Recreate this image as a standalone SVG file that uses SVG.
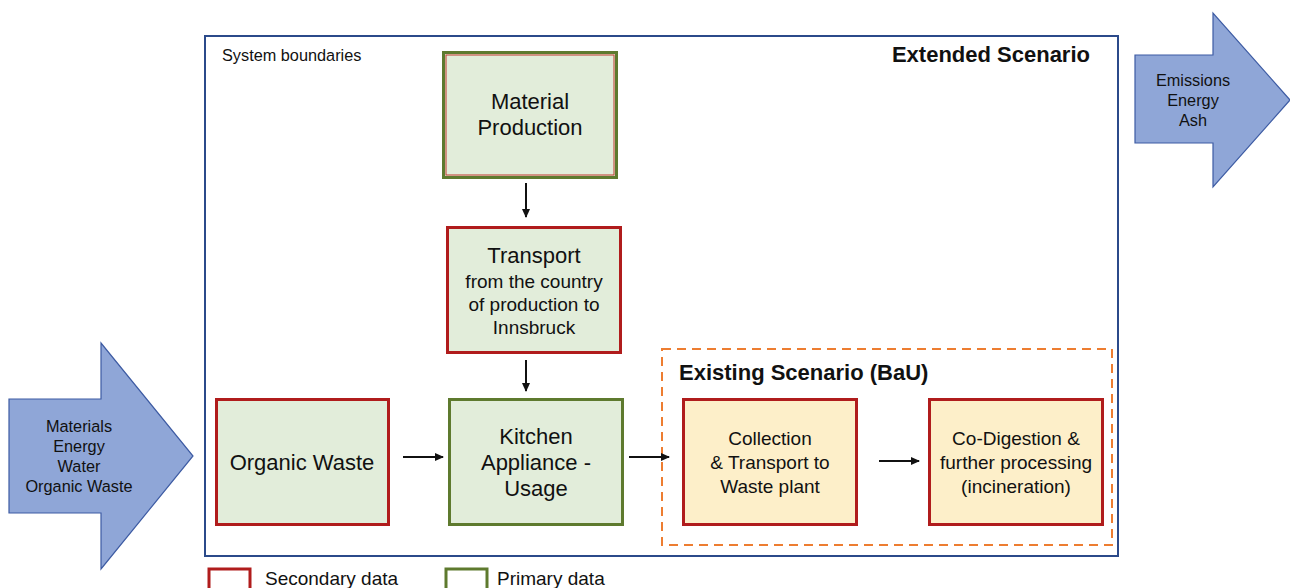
<svg xmlns="http://www.w3.org/2000/svg" width="1290" height="588" viewBox="0 0 1290 588">
<style>
text{font-family:"Liberation Sans",Arial,sans-serif;fill:#111;text-anchor:middle}
.green{fill:#e2edda;stroke:#5e7a2e;stroke-width:3}
.red{fill:#e2edda;stroke:#b01c1c;stroke-width:3}
.redy{fill:#fdefc9;stroke:#b01c1c;stroke-width:3}
.big{fill:#8fa6d7;stroke:#3d5ba3;stroke-width:1.2}
.conn{stroke:#111;stroke-width:2;fill:none;marker-end:url(#ah)}
.t22{font-size:22px}
.t19{font-size:19px}
.t16{font-size:16.3px}
.b{font-weight:bold;font-size:22px}
</style>
<defs>
<marker id="ah" markerWidth="9" markerHeight="8" refX="8" refY="4" orient="auto" markerUnits="userSpaceOnUse">
<path d="M0,0 L9,4 L0,8 Z" fill="#111"/>
</marker>
</defs>
<rect width="1290" height="588" fill="#fff"/>
<g id="boundary">
<rect x="205" y="36" width="913" height="520" fill="none" stroke="#2b4a8a" stroke-width="2"/>
<text x="222" y="61" style="font-size:16.3px;text-anchor:start">System boundaries</text>
<text x="1090" y="62" class="b" style="text-anchor:end">Extended Scenario</text>
</g>
<g id="bau">
<rect x="662" y="349" width="450" height="196" fill="none" stroke="#ed7d31" stroke-width="2" stroke-dasharray="9,6"/>
<text x="679" y="380" class="b" style="text-anchor:start">Existing Scenario (BaU)</text>
</g>
<g id="inputs">
<path class="big" d="M9,399 L101,399 L101,343 L193,456 L101,569 L101,513 L9,513 Z"/>
<text x="79" y="432" class="t16">Materials</text>
<text x="79" y="452" class="t16">Energy</text>
<text x="79" y="472" class="t16">Water</text>
<text x="79" y="492" class="t16">Organic Waste</text>
</g>
<g id="outputs">
<path class="big" d="M1135,55 L1213,55 L1213,13 L1290,100 L1213,187 L1213,143 L1135,143 Z"/>
<text x="1193" y="86" class="t16">Emissions</text>
<text x="1193" y="106" class="t16">Energy</text>
<text x="1193" y="126" class="t16">Ash</text>
</g>
<g id="material-production">
<rect x="443.5" y="52.5" width="173" height="125" class="green"/>
<rect x="446" y="55" width="168" height="120" fill="none" stroke="#c0392b" stroke-width="1"/>
<text x="530" y="109" class="t22">Material</text>
<text x="530" y="135" class="t22">Production</text>
</g>
<g id="transport">
<rect x="447.5" y="227.5" width="173" height="125" class="red"/>
<text x="534" y="263" class="t22">Transport</text>
<text x="534" y="288" class="t19">from the country</text>
<text x="534" y="311" class="t19">of production to</text>
<text x="534" y="334" class="t19">Innsbruck</text>
</g>
<g id="organic-waste">
<rect x="216.5" y="399.5" width="172" height="125" class="red"/>
<text x="302" y="470" class="t22">Organic Waste</text>
</g>
<g id="kitchen">
<rect x="449.5" y="399.5" width="173" height="125" class="green"/>
<text x="536" y="444" class="t22">Kitchen</text>
<text x="536" y="470" class="t22">Appliance -</text>
<text x="536" y="496" class="t22">Usage</text>
</g>
<g id="collection">
<rect x="683.5" y="399.5" width="173" height="125" class="redy"/>
<text x="770" y="445" class="t19">Collection</text>
<text x="770" y="469" class="t19">&amp; Transport to</text>
<text x="770" y="493" class="t19">Waste plant</text>
</g>
<g id="codigestion">
<rect x="929.5" y="399.5" width="173" height="125" class="redy"/>
<text x="1016" y="445" class="t19">Co-Digestion &amp;</text>
<text x="1016" y="469" class="t19">further processing</text>
<text x="1016" y="493" class="t19">(incineration)</text>
</g>
<g id="connectors">
<line class="conn" x1="526" y1="183" x2="526" y2="217"/>
<line class="conn" x1="526" y1="360" x2="526" y2="391"/>
<line class="conn" x1="403" y1="457" x2="443" y2="457"/>
<line class="conn" x1="629" y1="457" x2="669" y2="457"/>
<line class="conn" x1="879" y1="461" x2="919" y2="461"/>
</g>
<g id="legend">
<rect x="209" y="569" width="41" height="25" fill="none" stroke="#b01c1c" stroke-width="3"/>
<text x="265" y="585" style="font-size:19px;text-anchor:start">Secondary data</text>
<rect x="446" y="569" width="41" height="25" fill="none" stroke="#5e7a2e" stroke-width="3"/>
<text x="497" y="585" style="font-size:19px;text-anchor:start">Primary data</text>
</g>
</svg>
